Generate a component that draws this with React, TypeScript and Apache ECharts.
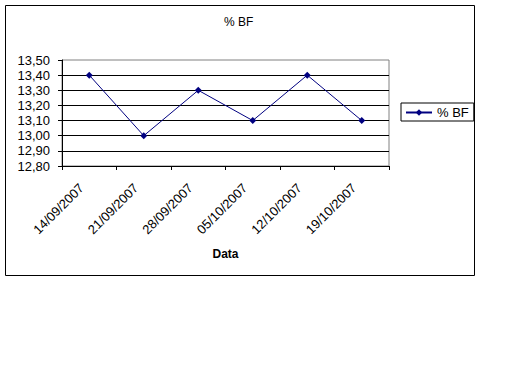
import React, { useEffect, useRef } from "react";
import * as echarts from "echarts";

const categories = ["14/09/2007", "21/09/2007", "28/09/2007", "05/10/2007", "12/10/2007", "19/10/2007"];
const bfValues = [13.4, 13.0, 13.3, 13.1, 13.4, 13.1];
const seriesName = "% BF";
const titleText = "% BF";
const xAxisName = "Data";

const FONT = "Liberation Sans, Arial, sans-serif";

export default function App() {
  const ref = useRef<HTMLDivElement>(null);
  useEffect(() => {
    if (!ref.current) return;
    const chart = echarts.init(ref.current, null, { renderer: "svg" });
    chart.setOption({
      animation: false,
      backgroundColor: "#fff",
      textStyle: { fontFamily: FONT },
      title: {
        text: titleText,
        left: 224,
        top: 16,
        padding: 0,
        textStyle: { fontSize: 12, fontWeight: "normal", color: "#000", fontFamily: FONT },
      },
      graphic: [
        {
          type: "rect",
          shape: { x: 5.5, y: 5.5, width: 469, height: 270 },
          style: { fill: "none", stroke: "#000", lineWidth: 1 },
          z: 100,
        },
      ],
      legend: {
        left: 401,
        top: 103,
        orient: "vertical",
        borderColor: "#000",
        borderWidth: 1,
        borderRadius: 0,
        padding: [3, 5, 2, 4],
        itemWidth: 26,
        itemHeight: 8,
        itemGap: 0,
        textStyle: { fontSize: 13, color: "#000", fontFamily: FONT },
        data: [{ name: seriesName }],
      },
      grid: {
        left: 62,
        right: 123,
        top: 60,
        bottom: 218,
        show: true,
        borderColor: "#808080",
        borderWidth: 1,
        backgroundColor: "#fff",
      },
      xAxis: {
        type: "category",
        data: categories,
        boundaryGap: true,
        name: xAxisName,
        nameLocation: "middle",
        nameGap: 82,
        nameTextStyle: { fontSize: 12, fontWeight: "bold", color: "#000", fontFamily: FONT },
        axisLine: { lineStyle: { color: "#000", width: 1 } },
        axisTick: { show: true, alignWithLabel: false, length: 4, lineStyle: { color: "#000" } },
        axisLabel: {
          rotate: 45,
          fontSize: 13,
          color: "#000",
          margin: 12,
          padding: [0, 11, 0, 0],
          fontFamily: FONT,
        },
        splitLine: { show: false },
      },
      yAxis: {
        type: "value",
        min: 12.8,
        max: 13.5,
        interval: 0.1,
        axisLine: { show: true, lineStyle: { color: "#000", width: 1 } },
        axisTick: { show: true, length: 4, lineStyle: { color: "#000" } },
        axisLabel: {
          fontSize: 13,
          color: "#000",
          margin: 12,
          fontFamily: FONT,
          formatter: (v: number) => v.toFixed(2).replace(".", ","),
        },
        splitLine: {
          show: true,
          lineStyle: {
            color: ["#000", "#000", "#000", "#000", "#000", "#000", "#000", "rgba(0,0,0,0)"],
            width: 1,
          },
        },
      },
      series: [
        {
          name: seriesName,
          type: "line",
          data: bfValues,
          symbol: "diamond",
          symbolSize: 7,
          showSymbol: true,
          lineStyle: { color: "#000080", width: 1 },
          itemStyle: { color: "#000080" },
        },
      ],
    });
    return () => chart.dispose();
  }, []);
  return (
    <div
      ref={ref}
      style={{ position: "absolute", left: 0, top: 0, width: 512, height: 384 }}
    />
  );
}
